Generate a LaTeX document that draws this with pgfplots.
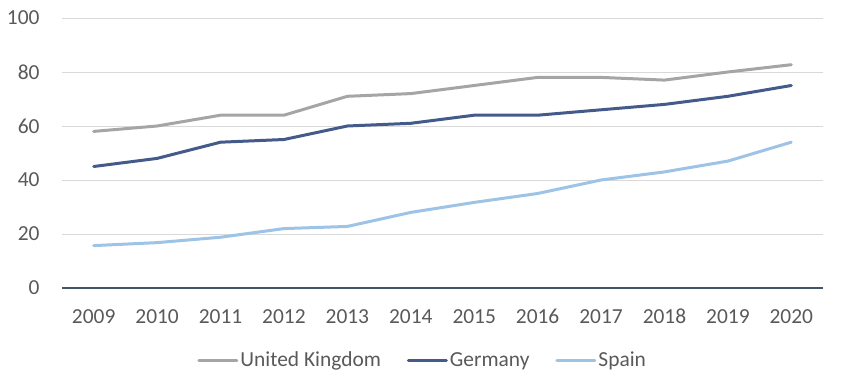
\documentclass[border=0pt]{standalone}
\usepackage{pgfplots}
\pgfplotsset{compat=1.18}
\usepackage{fontspec}
\setmainfont{Carlito}
\definecolor{ukgray}{HTML}{A5A5A5}
\definecolor{deblue}{HTML}{435A8A}
\definecolor{esblue}{HTML}{9DC3E6}
\definecolor{gridgray}{HTML}{D9D9D9}
\definecolor{zeroline}{HTML}{44546A}
\definecolor{labelgray}{HTML}{595959}
\begin{document}
\begin{tikzpicture}
\useasboundingbox (0,0) rectangle (843bp,390bp);
\begin{axis}[
  at={(62bp,102bp)}, anchor=south west,
  scale only axis, width=761bp, height=270bp,
  xmin=-0.5, xmax=11.5, ymin=0, ymax=100,
  xtick={0,...,11},
  xticklabels={2009,2010,2011,2012,2013,2014,2015,2016,2017,2018,2019,2020},
  ytick={20,40,60,80,100},
  extra y ticks={0},
  extra y tick style={grid style={draw=zeroline, line width=2.5bp}},
  ymajorgrids,
  grid style={draw=gridgray, line width=0.8bp},
  axis line style={draw=none},
  tick style={draw=none},
  tick label style={font=\fontsize{21.5}{24}\selectfont, text=labelgray},
  /pgf/number format/assume math mode=true,
  yticklabel style={xshift=-19bp},
  xticklabel style={yshift=-18bp, text height=14bp, text depth=0bp},
  legend style={at={(0.474,-0.267)}, anchor=center, legend columns=3, draw=none, fill=none,
    font=\fontsize{21.5}{24}\selectfont, text=labelgray,
    /tikz/every even column/.append style={column sep=24bp}},
  legend image code/.code={\draw[#1, line width=3bp] (0bp,0bp) -- (38bp,0bp);},
  every axis plot/.append style={line width=3bp, line join=round, line cap=round},
]
\addplot[ukgray] coordinates {(0,58) (1,60) (2,64) (3,64) (4,71) (5,72) (6,75) (7,78) (8,78) (9,77) (10,80) (11,82.7)};
\addlegendentry{United Kingdom}
\addplot[deblue] coordinates {(0,45) (1,48) (2,54) (3,55) (4,60) (5,61) (6,64) (7,64) (8,66) (9,68) (10,71) (11,75)};
\addlegendentry{Germany}
\addplot[esblue] coordinates {(0,15.7) (1,16.8) (2,18.8) (3,22) (4,22.8) (5,28) (6,31.7) (7,35) (8,40) (9,43) (10,47) (11,54)};
\addlegendentry{Spain}
\end{axis}
\end{tikzpicture}
\end{document}
